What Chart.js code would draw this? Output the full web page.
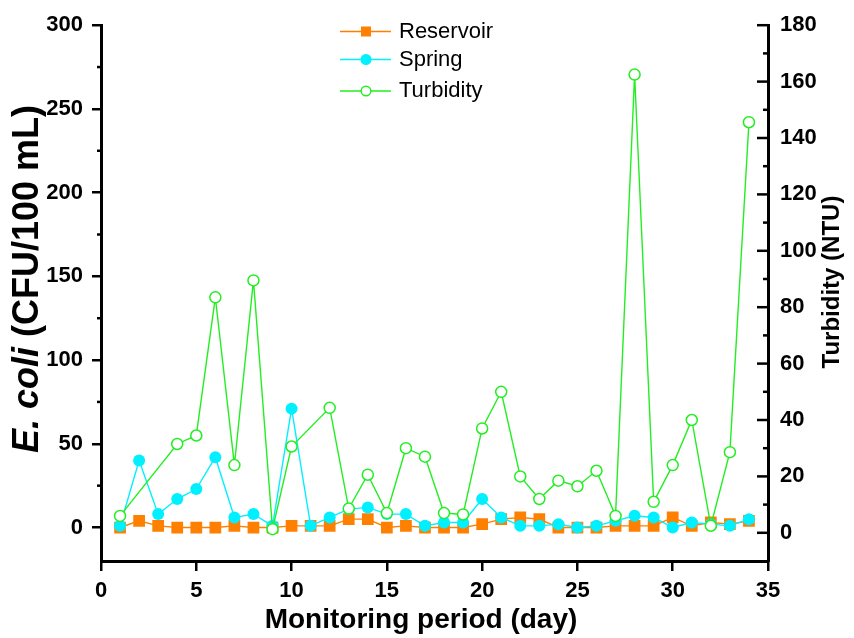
<!DOCTYPE html>
<html>
<head>
<meta charset="utf-8">
<script src="https://cdn.jsdelivr.net/npm/chart.js@4.4.1/dist/chart.umd.min.js"></script>
<style>
  html, body { margin: 0; padding: 0; background: #ffffff; }
  #wrap { width: 854px; height: 638px; position: relative; }
</style>
</head>
<body>
<div id="wrap"><canvas id="c" width="854" height="638"></canvas></div>
<script>
// Daily monitoring record
const days = [1, 2, 3, 4, 5, 6, 7, 8, 9, 10, 11, 12, 13, 14, 15, 16, 17,
              18, 19, 20, 21, 22, 23, 24, 25, 26, 27, 28, 29, 30, 31, 32, 33, 34];
// E. coli counts (CFU/100 mL)
const reservoir = [0, 4, 1, 0, 0, 0, 1, 0, 0, 1, 1, 1, 5, 5, 0, 1, 0,
                   0, 0, 2, 5, 6, 5, 0, 0, 0, 1, 1, 1, 6, 1, 3, 2, 4];
const spring = [1, 40, 8, 17, 23, 42, 6, 8, 1, 71, 1, 6, 11, 12, 8, 8, 1,
                3, 3, 17, 6, 1, 1, 2, 0, 1, 4, 7, 6, 0, 3, 2, 1, 5];
// Turbidity (NTU); null = not measured that day
const turbidity = [6, null, null, 31.5, 34.5, 83.5, 24, 89.5, 1.3, 30.6, null, 44.3, 8.6, 20.6, 7, 30, 27,
                   7, 6.5, 37, 50, 20, 12, 18.5, 16.5, 22, 6, 162.5, 11, 24, 40, 2.5, 28.6, 145.6];

// Axis tick values
const xTicks = [0, 5, 10, 15, 20, 25, 30, 35];
const leftTicks = [0, 50, 100, 150, 200, 250, 300];
const leftMinorTicks = [25, 75, 125, 175, 225, 275];
const rightTicks = [0, 20, 40, 60, 80, 100, 120, 140, 160, 180];
const rightMinorTicks = [10, 30, 50, 70, 90, 110, 130, 150, 170];

const FONT = "'Liberation Sans', Arial, Helvetica, sans-serif";
const ORANGE = '#FF8000';
const CYAN = '#00F0FF';
const GREEN = '#22EE22';

Chart.defaults.font.family = FONT;
Chart.defaults.color = '#000';

const toPoints = (vals) => days.map((d, i) => ({ x: d, y: vals[i] }));

// Extra axis furniture: minor ticks, inward right ticks, axis titles, legend
const decorations = {
  id: 'decorations',
  afterDraw(chart) {
    const ctx = chart.ctx;
    const yL = chart.scales.y;
    const yR = chart.scales.y1;
    const area = chart.chartArea;
    ctx.save();
    ctx.strokeStyle = '#000';
    ctx.lineCap = 'butt';

    // left minor ticks (outward)
    ctx.lineWidth = 2.5;
    leftMinorTicks.forEach(v => {
      const py = yL.getPixelForValue(v);
      ctx.beginPath();
      ctx.moveTo(area.left - 4, py);
      ctx.lineTo(area.left, py);
      ctx.stroke();
    });
    // right ticks point into the plot
    rightTicks.forEach(v => {
      const py = yR.getPixelForValue(v);
      ctx.beginPath();
      ctx.moveTo(area.right - 11, py);
      ctx.lineTo(area.right, py);
      ctx.stroke();
    });
    rightMinorTicks.forEach(v => {
      const py = yR.getPixelForValue(v);
      ctx.beginPath();
      ctx.moveTo(area.right - 5, py);
      ctx.lineTo(area.right, py);
      ctx.stroke();
    });

    ctx.fillStyle = '#000';
    ctx.textBaseline = 'middle';

    // bottom axis title
    ctx.textAlign = 'center';
    ctx.font = 'bold 28px ' + FONT;
    ctx.fillText('Monitoring period (day)', 421, 620);

    // left axis title with italic organism name
    const fItalic = 'italic bold 36px ' + FONT;
    const fBold = 'bold 36px ' + FONT;
    const partA = 'E. coli';
    const partB = ' (CFU/100 mL)';
    ctx.font = fItalic;
    const wA = ctx.measureText(partA).width;
    ctx.font = fBold;
    const wB = ctx.measureText(partB).width;
    ctx.save();
    ctx.translate(28, 279);
    ctx.rotate(-Math.PI / 2);
    ctx.textAlign = 'left';
    const start = -(wA + wB) / 2;
    ctx.font = fItalic;
    ctx.fillText(partA, start, 0);
    ctx.font = fBold;
    ctx.fillText(partB, start + wA, 0);
    ctx.restore();

    // right axis title
    ctx.save();
    ctx.translate(832, 282);
    ctx.rotate(-Math.PI / 2);
    ctx.textAlign = 'center';
    ctx.font = 'bold 24px ' + FONT;
    ctx.fillText('Turbidity (NTU)', 0, 0);
    ctx.restore();

    // legend
    const rows = [31.5, 59.5, 91];
    chart.data.datasets.forEach((ds, i) => {
      const ly = rows[i];
      ctx.strokeStyle = ds.borderColor;
      ctx.lineWidth = 1.5;
      ctx.beginPath();
      ctx.moveTo(340, ly);
      ctx.lineTo(391, ly);
      ctx.stroke();
      const mx = 366;
      if (ds.pointStyle === 'rect') {
        ctx.fillStyle = ds.pointBackgroundColor;
        ctx.fillRect(mx - 5, ly - 5, 10, 10);
      } else {
        ctx.beginPath();
        ctx.arc(mx, ly, 4.8, 0, Math.PI * 2);
        ctx.fillStyle = ds.pointBackgroundColor;
        ctx.fill();
        ctx.lineWidth = 1.4;
        ctx.strokeStyle = ds.pointBorderColor;
        ctx.stroke();
      }
      ctx.fillStyle = '#000';
      ctx.font = '22px ' + FONT;
      ctx.textAlign = 'left';
      ctx.textBaseline = 'middle';
      ctx.fillText(ds.label, 399, ly);
    });
    ctx.restore();
  }
};

new Chart(document.getElementById('c'), {
  type: 'line',
  data: {
    datasets: [
      {
        label: 'Reservoir',
        data: toPoints(reservoir),
        yAxisID: 'y',
        borderColor: ORANGE,
        backgroundColor: ORANGE,
        borderWidth: 1.4,
        pointStyle: 'rect',
        pointRadius: 8.3,
        pointBackgroundColor: ORANGE,
        pointBorderColor: ORANGE,
        pointBorderWidth: 0,
        order: 3
      },
      {
        label: 'Spring',
        data: toPoints(spring),
        yAxisID: 'y',
        borderColor: CYAN,
        backgroundColor: CYAN,
        borderWidth: 1.4,
        pointStyle: 'circle',
        pointRadius: 6,
        pointBackgroundColor: CYAN,
        pointBorderColor: CYAN,
        pointBorderWidth: 0,
        order: 2
      },
      {
        label: 'Turbidity',
        data: toPoints(turbidity),
        yAxisID: 'y1',
        spanGaps: true,
        borderColor: GREEN,
        backgroundColor: '#ffffff',
        borderWidth: 1.4,
        pointStyle: 'circle',
        pointRadius: 5.5,
        pointBackgroundColor: '#ffffff',
        pointBorderColor: GREEN,
        pointBorderWidth: 1.5,
        order: 1
      }
    ]
  },
  options: {
    responsive: false,
    animation: false,
    devicePixelRatio: 1,
    layout: { padding: { top: 22, left: 0, right: 0, bottom: 0 } },
    plugins: {
      legend: { display: false },
      tooltip: { enabled: false }
    },
    elements: { line: { tension: 0 } },
    scales: {
      x: {
        type: 'linear',
        position: 'bottom',
        min: 0,
        max: 35,
        afterBuildTicks: s => { s.ticks = xTicks.map(v => ({ value: v })); },
        afterFit: s => { s.height = 77; },
        ticks: {
          font: { size: 22, weight: 'bold' },
          color: '#000',
          padding: 7,
          maxRotation: 0,
          autoSkip: false
        },
        grid: { drawOnChartArea: false, drawTicks: true, tickLength: 10, lineWidth: 2.5, color: '#000' },
        border: { display: true, width: 3, color: '#000' }
      },
      y: {
        type: 'linear',
        position: 'left',
        min: -20,
        max: 300,
        afterBuildTicks: s => { s.ticks = leftTicks.map(v => ({ value: v })); },
        afterFit: s => { s.width = 101; },
        ticks: {
          font: { size: 22, weight: 'bold' },
          color: '#000',
          padding: 9
        },
        grid: { drawOnChartArea: false, drawTicks: true, tickLength: 9, lineWidth: 2.5, color: '#000' },
        border: { display: true, width: 3, color: '#000' }
      },
      y1: {
        type: 'linear',
        position: 'right',
        min: -10,
        max: 180,
        afterBuildTicks: s => { s.ticks = rightTicks.map(v => ({ value: v })); },
        afterFit: s => { s.width = 86; },
        ticks: {
          font: { size: 22, weight: 'bold' },
          color: '#000',
          padding: 12
        },
        grid: { display: false, drawOnChartArea: false, drawTicks: false },
        border: { display: true, width: 3, color: '#000' }
      }
    }
  },
  plugins: [decorations]
});
</script>
</body>
</html>
